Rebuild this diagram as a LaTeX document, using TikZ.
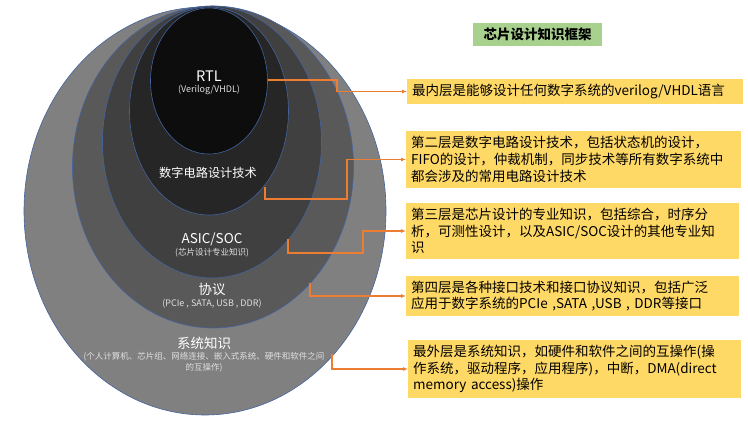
\documentclass[tikz,border=0pt]{standalone}
\usepackage{fontspec}
\setmainfont{Noto Sans CJK SC}
\usetikzlibrary{shapes.geometric,arrows.meta}
\definecolor{ringblue}{RGB}{68,100,160}
\definecolor{linkorange}{RGB}{237,125,49}
\definecolor{noteyellow}{RGB}{255,217,102}
\definecolor{titlegreen}{RGB}{169,209,142}
\begin{document}
\begin{tikzpicture}[x=1pt,y=-1pt,
  ring/.style={ellipse,draw=ringblue,line width=0.6pt,inner sep=0pt,outer sep=0pt},
  bigtext/.style={text=white,font=\fontsize{13.5}{15}\selectfont},
  smalltext/.style={text=black!12,font=\fontsize{8.5}{10.5}\selectfont,align=center,inner sep=0pt},
  note/.style={fill=noteyellow,anchor=west,inner sep=5pt,align=left,font=\fontsize{13.5}{16.7}\selectfont},
  link/.style={draw=linkorange,line width=1.1pt,-{Latex[length=5pt,width=4pt]}}]
\useasboundingbox (0,0) rectangle (748,421);
\node[ring,fill=black!50,minimum width=362pt,minimum height=408pt] (sys) at (205,211) {};
\node[ring,fill=black!65,minimum width=281pt,minimum height=322pt] (proto) at (213,167) {};
\node[ring,fill=black!75,minimum width=219pt,minimum height=272pt] (asic) at (212,142) {};
\node[ring,fill=black!85,minimum width=159pt,minimum height=208pt] (dig) at (209,111) {};
\node[ring,fill=black!95,minimum width=117pt,minimum height=146pt] (rtl) at (209,81) {};
\node[bigtext,font=\fontsize{14.5}{16}\selectfont] (rtllabel) at (209,76) {RTL};
\node[smalltext,font=\fontsize{9}{10.5}\selectfont] (rtlsub) at (209,90) {(Verilog/VHDL)};
\node[bigtext,font=\fontsize{12.2}{14}\selectfont] (diglabel) at (208,173) {数字电路设计技术};
\node[bigtext] (asiclabel) at (212,239) {ASIC/SOC};
\node[smalltext] (asicsub) at (212,253) {(芯片设计专业知识)};
\node[bigtext] (protolabel) at (212,289) {协议};
\node[smalltext,font=\fontsize{9}{10.5}\selectfont] (protosub) at (212,304) {(PCIe , SATA, USB , DDR)};
\node[bigtext] (syslabel) at (204,343) {系统知识};
\node[smalltext] (syssub) at (204,362) {(个人计算机、芯片组、网络连接、嵌入式系统、硬件和软件之间\\的互操作)};
\node[fill=titlegreen,minimum width=129pt,minimum height=23pt,font=\bfseries\fontsize{13.5}{15}\selectfont] (title) at (537.5,34.5) {芯片设计知识框架};
\node[note,text width=326pt,minimum height=23pt] (n1) at (407,91.5) {最内层是能够设计任何数字系统的verilog/VHDL语言};
\node[note,text width=325pt,minimum height=57pt] (n2) at (406,159.5) {第二层是数字电路设计技术，包括状态机的设计，\\FIFO的设计，仲裁机制，同步技术等所有数字系统中\\都会涉及的常用电路设计技术};
\node[note,text width=323pt,minimum height=56pt] (n3) at (406,231) {第三层是芯片设计的专业知识，包括综合，时序分\\析，可测性设计，以及ASIC/SOC设计的其他专业知\\识};
\node[note,text width=323pt,minimum height=40pt] (n4) at (406,296) {第四层是各种接口技术和接口协议知识，包括广泛\\应用于数字系统的PCIe ,SATA ,USB , DDR等接口};
\node[note,text width=323pt,minimum height=56pt] (n5) at (408,369) {最外层是系统知识，如硬件和软件之间的互操作(操\\作系统，驱动程序，应用程序)，中断，DMA(direct\\memory access)操作};
\coordinate (rtlout) at (268,80);
\coordinate (digout) at (265,187);
\coordinate (asicout) at (288,239);
\coordinate (protoout) at (310,283);
\coordinate (sysout) at (332,354);
\draw[link] (rtlout) -- ++(69,0) |- (n1.west);
\draw[link] (digout) -- ++(0,12) -- ++(82,0) |- (n2.west);
\draw[link] (asicout) -- ++(0,14) -- ++(75,0) |- (n3.west);
\draw[link] (protoout) |- (n4.west);
\draw[link] (sysout) |- (n5.west);
\end{tikzpicture}
\end{document}
